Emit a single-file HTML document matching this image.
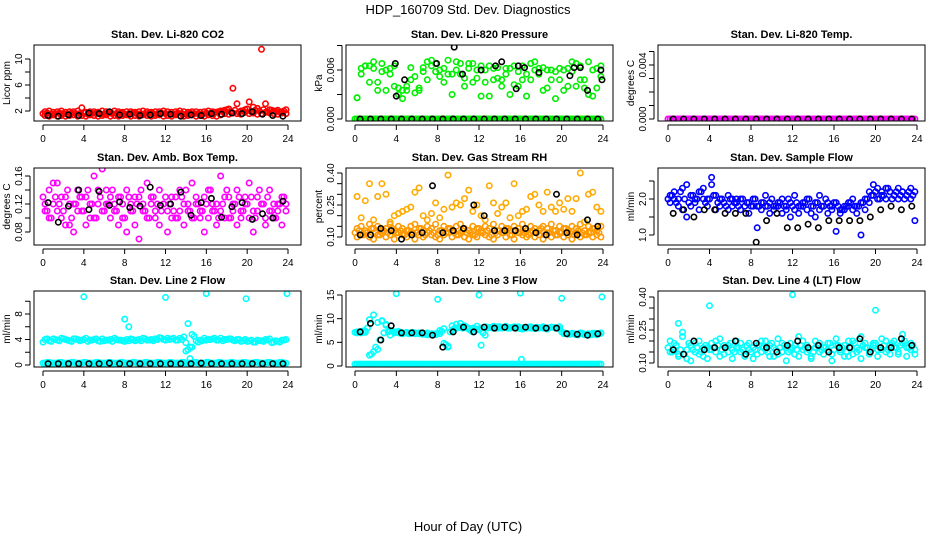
<!DOCTYPE html>
<html><head><meta charset="utf-8">
<style>
html,body{margin:0;padding:0;background:#fff;}
svg{display:block;font-family:"Liberation Sans",sans-serif;}
</style></head>
<body>
<svg id="chart" width="936" height="540" viewBox="0 0 936 540" xmlns="http://www.w3.org/2000/svg">
<text x="468" y="14" text-anchor="middle" font-size="13">HDP_160709  Std. Dev. Diagnostics</text>
<text x="468" y="531" text-anchor="middle" font-size="13">Hour of Day (UTC)</text>
<g id="panels"></g>
</svg>
<script>
// ---- data ----
const X60 = [0.2,0.6,1.0,1.4,1.8,2.2,2.6,3.0,3.4,3.8,4.2,4.6,5.0,5.4,5.8,6.2,6.6,7.0,7.4,7.8,8.2,8.6,9.0,9.4,9.8,10.2,10.6,11.0,11.4,11.8,12.2,12.6,13.0,13.4,13.8,14.2,14.6,15.0,15.4,15.8,16.2,16.6,17.0,17.4,17.8,18.2,18.6,19.0,19.4,19.8,20.2,20.6,21.0,21.4,21.8,22.2,22.6,23.0,23.4,23.8];
const X60b = [0.0,0.4,0.8,1.2,1.6,2.0,2.4,2.8,3.2,3.6,4.0,4.4,4.8,5.2,5.6,6.0,6.4,6.8,7.2,7.6,8.0,8.4,8.8,9.2,9.6,10.0,10.4,10.8,11.2,11.6,12.0,12.4,12.8,13.2,13.6,14.0,14.4,14.8,15.2,15.6,16.0,16.4,16.8,17.2,17.6,18.0,18.4,18.8,19.2,19.6,20.0,20.4,20.8,21.2,21.6,22.0,22.4,22.8,23.2,23.6];
const XB = [0.5,1.5,2.5,3.5,4.5,5.5,6.5,7.5,8.5,9.5,10.5,11.5,12.5,13.5,14.5,15.5,16.5,17.5,18.5,19.5,20.5,21.5,22.5,23.5];
const hourTicks = [0,4,8,12,16,20,24];

const co2A = [1.9,2.0,1.8,1.9,2.0,1.8,1.9,1.9,2.0,2.5,1.8,1.9,1.9,1.8,2.0,1.9,1.8,2.0,1.9,1.8,1.9,1.9,1.8,1.9,2.0,1.9,1.8,1.9,1.9,2.0,1.9,1.8,1.9,2.0,1.9,1.8,1.9,1.9,1.8,1.9,2.0,1.9,1.8,2.0,2.1,2.3,5.5,3.1,2.0,2.2,3.4,2.6,2.4,11.5,3.1,2.2,2.0,2.1,1.9,2.2];
const co2B = [1.3,1.2,1.4,1.2,1.3,1.2,1.3,1.4,1.2,1.3,1.2,1.4,1.3,1.2,1.3,1.4,1.2,1.3,1.2,1.3,1.4,1.2,1.3,1.2,1.4,1.3,1.2,1.3,1.4,1.2,1.3,1.2,1.4,1.3,1.2,1.3,1.4,1.2,1.3,1.2,1.4,1.3,1.2,1.4,1.6,1.5,1.7,1.6,1.5,1.8,1.6,1.7,1.5,1.6,1.8,1.7,1.6,1.5,1.7,1.6];
const co2C = [1.6,1.7,1.5,1.6,1.7,1.6,1.5,1.7,1.6,1.6,1.7,1.5,1.6,1.7,1.6,1.5,1.7,1.6,1.6,1.7,1.5,1.6,1.7,1.6,1.5,1.6,1.7,1.6,1.5,1.7,1.6,1.6,1.5,1.7,1.6,1.5,1.7,1.6,1.6,1.5,1.7,1.6,1.8,1.9,2.0,2.2,1.9,2.1,1.8,2.0,2.3,1.9,2.1,2.0,2.2,1.9,2.1,2.0,1.8,2.0];
const co2K = [1.3,1.2,1.4,1.3,1.7,1.6,1.9,1.4,1.5,1.3,1.4,1.6,1.5,1.2,1.4,1.3,1.6,1.5,1.7,1.6,1.9,1.5,1.3,1.2];

const prZero = [0,0,0,0,0,0,0,0,0,0,0,0,0,0,0,0,0,0,0,0,0,0,0,0,0,0,0,0,0,0,0,0,0,0,0,0,0,0,0,0,0,0,0,0,0,0,0,0,0,0,0,0,0,0,0,0,0,0,0,0];
const prA = [0.0026,0.0055,0.0065,0.0065,0.0062,0.0045,0.0068,0.0060,0.0062,0.0040,0.0038,0.0025,0.0035,0.0063,0.0052,0.0038,0.0063,0.0070,0.0072,0.0068,0.0060,0.0045,0.0072,0.0055,0.0060,0.0068,0.0050,0.0068,0.0045,0.0060,0.0028,0.0060,0.0065,0.0048,0.0063,0.0048,0.0062,0.0030,0.0065,0.0040,0.0065,0.0028,0.0048,0.0070,0.0055,0.0063,0.0038,0.0060,0.0025,0.0048,0.0060,0.0040,0.0070,0.0068,0.0048,0.0038,0.0070,0.0028,0.0062,0.0065];
const prB = [0.0026,0.0062,0.0065,0.0045,0.0070,0.0035,0.0058,0.0035,0.0055,0.0065,0.0030,0.0035,0.0040,0.0048,0.0032,0.0035,0.0058,0.0048,0.0065,0.0058,0.0052,0.0062,0.0055,0.0030,0.0070,0.0055,0.0040,0.0062,0.0068,0.0050,0.0065,0.0045,0.0028,0.0062,0.0050,0.0040,0.0055,0.0062,0.0042,0.0058,0.0048,0.0055,0.0068,0.0060,0.0062,0.0035,0.0060,0.0048,0.0058,0.0062,0.0035,0.0062,0.0058,0.0040,0.0065,0.0048,0.0030,0.0060,0.0038,0.0052];
const blkZero = [0,0,0,0,0,0,0,0,0,0,0,0,0,0,0,0,0,0,0,0,0,0,0,0];
const prKx = [3.9,4.0,4.8,7.9,9.6,10.4,12.2,13.6,14.2,15.6,15.8,16.4,17.8,20.8,21.2,21.8,22.5,23.8,23.9];
const prKy = [0.0068,0.0028,0.0048,0.0068,0.0088,0.0055,0.0060,0.0065,0.0070,0.0037,0.0065,0.0063,0.0057,0.0053,0.0063,0.0063,0.0035,0.0060,0.0048];

const tmpOutX = [18.4];
const tmpOutY = [0.0061];

const abA = [0.11,0.14,0.12,0.15,0.10,0.13,0.09,0.12,0.14,0.11,0.13,0.10,0.16,0.12,0.11,0.14,0.10,0.12,0.13,0.10,0.14,0.12,0.09,0.13,0.11,0.15,0.12,0.10,0.14,0.12,0.11,0.13,0.10,0.14,0.12,0.11,0.15,0.12,0.10,0.13,0.14,0.11,0.12,0.16,0.10,0.13,0.11,0.14,0.10,0.12,0.15,0.11,0.13,0.12,0.10,0.14,0.12,0.11,0.13,0.12];
const abB = [0.12,0.10,0.15,0.11,0.13,0.09,0.12,0.08,0.11,0.13,0.09,0.12,0.10,0.14,0.17,0.12,0.13,0.11,0.09,0.12,0.08,0.11,0.13,0.07,0.12,0.10,0.13,0.11,0.09,0.12,0.08,0.10,0.13,0.11,0.09,0.12,0.10,0.13,0.11,0.08,0.10,0.12,0.09,0.11,0.13,0.10,0.12,0.09,0.11,0.13,0.10,0.08,0.11,0.12,0.09,0.11,0.10,0.12,0.09,0.11];
const abC = [0.13,0.11,0.10,0.13,0.12,0.11,0.14,0.10,0.12,0.13,0.11,0.14,0.12,0.10,0.13,0.11,0.12,0.14,0.11,0.13,0.10,0.13,0.11,0.12,0.14,0.11,0.10,0.13,0.12,0.11,0.13,0.12,0.11,0.10,0.13,0.14,0.11,0.10,0.12,0.11,0.12,0.14,0.11,0.10,0.12,0.14,0.10,0.12,0.13,0.11,0.12,0.13,0.10,0.14,0.12,0.13,0.11,0.10,0.12,0.13];
const abK = [0.122,0.094,0.117,0.140,0.112,0.138,0.118,0.123,0.115,0.117,0.144,0.118,0.120,0.137,0.104,0.122,0.128,0.101,0.116,0.122,0.098,0.106,0.100,0.124];

const rhA = [0.14,0.15,0.13,0.16,0.14,0.15,0.13,0.14,0.16,0.13,0.15,0.14,0.13,0.15,0.16,0.14,0.13,0.15,0.14,0.16,0.13,0.15,0.14,0.13,0.15,0.16,0.14,0.13,0.15,0.14,0.13,0.15,0.14,0.16,0.13,0.15,0.14,0.13,0.15,0.14,0.16,0.13,0.15,0.14,0.13,0.15,0.14,0.16,0.13,0.15,0.14,0.13,0.15,0.14,0.16,0.13,0.15,0.14,0.13,0.15];
const rhB = [0.10,0.11,0.12,0.10,0.09,0.11,0.12,0.10,0.11,0.09,0.12,0.11,0.10,0.12,0.09,0.11,0.10,0.12,0.11,0.10,0.09,0.11,0.12,0.10,0.11,0.12,0.10,0.09,0.11,0.10,0.12,0.11,0.10,0.09,0.11,0.12,0.10,0.11,0.09,0.12,0.11,0.10,0.12,0.10,0.11,0.09,0.12,0.10,0.11,0.12,0.10,0.11,0.09,0.12,0.10,0.11,0.12,0.10,0.11,0.10];
const rhD = [0.12,0.13,0.11,0.12,0.14,0.12,0.11,0.13,0.12,0.14,0.12,0.13,0.11,0.13,0.12,0.12,0.14,0.11,0.13,0.12,0.11,0.13,0.12,0.14,0.12,0.11,0.13,0.12,0.12,0.11,0.14,0.12,0.13,0.11,0.12,0.13,0.12,0.14,0.11,0.13,0.12,0.12,0.11,0.13,0.12,0.14,0.11,0.12,0.13,0.11,0.12,0.14,0.12,0.11,0.13,0.12,0.11,0.12,0.14,0.12];
const rhC = [0.29,0.19,0.27,0.35,0.18,0.29,0.35,0.30,0.17,0.20,0.21,0.22,0.23,0.24,0.31,0.33,0.20,0.18,0.21,0.26,0.19,0.23,0.39,0.24,0.26,0.25,0.28,0.32,0.22,0.25,0.20,0.18,0.34,0.26,0.21,0.24,0.26,0.19,0.35,0.20,0.22,0.23,0.29,0.30,0.25,0.22,0.31,0.24,0.22,0.26,0.23,0.28,0.22,0.28,0.40,0.17,0.30,0.31,0.24,0.22];
const rhK = [0.11,0.11,0.14,0.13,0.09,0.11,0.12,0.34,0.12,0.13,0.14,0.25,0.20,0.13,0.13,0.13,0.14,0.12,0.11,0.30,0.12,0.11,0.18,0.15];

const sfA = [2.1,2.2,2.0,2.3,2.4,2.1,2.0,2.2,2.3,2.0,2.4,2.1,2.0,1.9,2.1,2.0,1.9,2.0,1.8,1.9,2.0,1.8,1.9,2.1,1.9,1.8,1.9,2.0,1.8,1.9,2.1,1.8,1.9,2.0,1.8,1.9,2.1,1.8,1.9,1.8,1.9,1.7,1.8,1.9,2.0,1.8,1.9,2.0,2.2,2.4,2.3,2.2,2.3,2.2,2.1,2.3,2.2,2.1,2.3,2.2];
const sfB = [1.9,2.0,1.8,1.7,1.5,1.8,1.9,1.7,2.0,1.8,2.6,1.7,1.8,1.9,1.7,1.8,2.0,1.7,1.8,1.6,1.8,1.2,1.7,1.8,1.6,1.7,1.8,1.6,1.7,1.5,1.7,1.6,1.8,1.7,1.6,1.5,1.7,1.8,1.6,1.7,1.1,1.6,1.7,1.8,1.7,1.6,1.0,1.7,1.9,2.1,2.0,2.1,2.0,2.2,2.1,2.0,2.2,2.1,2.0,1.4];
const sfC = [2.0,2.1,1.9,2.2,2.0,1.9,2.1,2.0,2.2,1.9,2.0,2.1,1.9,2.0,1.8,2.0,1.9,1.8,2.0,1.9,1.8,2.0,1.8,1.9,1.8,2.0,1.8,1.9,1.8,2.0,1.8,1.9,1.8,1.9,2.0,1.8,1.9,1.8,2.0,1.8,1.9,1.8,1.7,1.8,1.9,1.8,1.8,1.9,2.0,2.1,2.2,2.0,2.1,2.3,2.0,2.2,2.1,2.0,2.2,2.1];
const sfK = [1.6,1.7,1.5,1.7,1.7,1.6,1.6,1.6,0.8,1.4,1.6,1.2,1.2,1.3,1.2,1.4,1.4,1.4,1.4,1.5,1.7,1.8,1.7,1.8];

const l2A = [4.0,3.8,4.1,3.9,4.2,4.0,3.8,4.1,4.0,3.9,4.2,3.9,4.0,3.8,4.1,3.9,4.0,4.2,3.9,3.8,4.0,4.1,3.8,4.0,4.2,3.9,4.0,4.1,4.3,4.0,4.2,4.1,3.9,4.2,4.4,2.4,4.8,3.8,3.9,4.2,4.0,4.1,3.9,4.2,4.0,4.1,3.9,4.0,3.7,4.0,3.8,3.6,3.9,3.8,4.0,4.1,3.6,3.7,3.9,4.0];
const l2C = [3.6,4.1,3.7,4.0,3.8,4.1,3.9,3.7,4.1,3.8,4.0,3.7,3.9,4.1,3.7,3.8,3.9,3.7,4.0,3.9,3.7,3.8,4.0,3.9,3.8,4.1,3.9,3.8,4.0,4.2,3.9,4.0,4.2,3.9,4.0,3.5,2.8,4.5,3.6,3.8,3.9,4.0,4.2,3.9,3.8,4.0,4.1,3.8,4.0,3.8,3.7,3.9,3.6,3.8,3.7,3.9,3.5,3.8,3.6,3.9];
const l2B = [0.3,0.4,0.3,0.3,0.4,0.3,0.3,0.4,0.3,0.3,0.4,0.3,0.3,0.4,0.3,0.3,0.4,0.3,0.3,0.4,0.3,0.3,0.4,0.3,0.3,0.4,0.3,0.3,0.4,0.3,0.3,0.4,0.3,0.3,0.4,0.3,0.3,0.4,0.3,0.3,0.4,0.3,0.3,0.4,0.3,0.3,0.4,0.3,0.3,0.4,0.3,0.3,0.4,0.3,0.3,0.4,0.3,0.3,0.4,0.3];
const l2Ox = [4.0,8.0,8.4,12.0,14.2,14.0,14.4,14.6,16.0,19.9,23.9];
const l2Oy = [10.7,7.2,6.0,10.6,6.5,2.2,1.0,2.8,11.2,10.4,11.2];
const l2K = [0.2,0.2,0.2,0.2,0.2,0.2,0.3,0.2,0.2,0.2,0.2,0.2,0.2,0.2,0.2,0.3,0.2,0.2,0.2,0.2,0.2,0.2,0.2,0.2];

const l3A = [7.0,7.3,7.1,2.3,3.0,3.5,9.5,8.8,6.5,7.2,7.0,6.8,7.0,6.9,7.0,6.8,6.7,6.6,6.8,6.6,6.8,4.8,4.2,7.5,8.0,8.3,8.2,8.0,7.2,7.8,8.0,6.5,8.2,8.0,8.3,8.0,8.2,8.1,8.3,8.0,7.8,8.2,8.0,7.9,8.1,8.0,7.8,8.2,8.0,7.9,6.8,6.7,6.8,6.6,6.8,6.7,6.5,6.7,6.8,6.9];
const l3B = [7.2,7.0,7.4,9.8,10.8,9.2,9.6,8.6,7.5,7.0,7.3,7.0,7.1,7.0,6.8,7.0,6.9,7.0,6.6,6.8,7.5,7.9,4.0,8.5,8.8,9.0,8.5,7.8,8.0,8.4,8.0,8.3,8.1,8.4,8.0,8.2,8.4,8.0,8.2,8.3,8.1,8.0,8.3,8.1,8.0,8.3,8.0,8.2,8.1,8.3,7.0,6.8,6.9,6.7,7.0,6.6,6.8,6.9,6.6,7.0];
const l3C = [7.1,7.2,7.4,8.0,2.5,4.0,5.5,7.0,7.2,7.4,7.1,6.9,7.0,6.8,7.1,6.9,6.8,6.7,6.6,6.7,6.9,7.3,4.5,7.2,7.9,8.1,8.0,8.2,7.5,7.9,7.6,7.0,8.0,8.1,8.0,8.3,8.1,8.0,8.2,8.1,7.9,8.1,8.2,8.0,8.2,8.1,8.0,8.1,8.2,8.0,7.2,6.9,6.7,6.8,6.6,6.9,6.7,6.6,6.9,6.8];
const l3Z = [0.4,0.4,0.4,0.4,0.4,0.4,0.4,0.4,0.4,0.4,0.4,0.4,0.4,0.4,0.4,0.4,0.4,0.4,0.4,0.4,0.4,0.4,0.4,0.4,0.4,0.4,0.4,0.4,0.4,0.4,0.4,0.4,0.4,0.4,0.4,0.4,0.4,0.4,0.4,0.4,0.4,0.4,0.4,0.4,0.4,0.4,0.4,0.4,0.4,0.4,0.4,0.4,0.4,0.4,0.4,0.4,0.4,0.4,0.4,0.4];
const l3Ox = [4.0,8.0,12.0,12.2,16.0,16.1,20.0,23.9];
const l3Oy = [15.3,14.1,15.0,4.4,15.4,1.4,14.3,14.6];
const l3K = [7.2,9.0,5.5,8.5,7.0,7.0,7.0,6.5,4.0,7.2,8.2,7.2,8.2,8.0,8.2,8.0,8.2,8.0,8.0,8.0,6.8,6.7,6.5,6.8];

const l4A = [0.20,0.16,0.14,0.22,0.12,0.18,0.15,0.20,0.13,0.17,0.19,0.15,0.21,0.14,0.18,0.16,0.20,0.15,0.13,0.19,0.17,0.14,0.20,0.16,0.18,0.13,0.21,0.15,0.17,0.19,0.14,0.22,0.16,0.18,0.13,0.20,0.15,0.17,0.19,0.14,0.21,0.16,0.18,0.13,0.20,0.15,0.22,0.17,0.14,0.19,0.16,0.21,0.15,0.18,0.20,0.14,0.23,0.17,0.19,0.16];
const l4B = [0.15,0.19,0.13,0.24,0.16,0.11,0.19,0.14,0.17,0.12,0.16,0.20,0.13,0.18,0.15,0.12,0.17,0.19,0.14,0.16,0.12,0.18,0.15,0.20,0.13,0.17,0.14,0.19,0.11,0.16,0.18,0.13,0.20,0.15,0.12,0.17,0.19,0.14,0.16,0.11,0.18,0.15,0.13,0.20,0.14,0.17,0.12,0.19,0.15,0.18,0.13,0.16,0.20,0.14,0.17,0.15,0.19,0.13,0.16,0.14];
const l4C = [0.17,0.15,0.18,0.16,0.14,0.19,0.16,0.17,0.15,0.18,0.16,0.17,0.18,0.16,0.17,0.19,0.15,0.17,0.16,0.18,0.15,0.16,0.18,0.17,0.15,0.19,0.16,0.17,0.18,0.15,0.17,0.16,0.18,0.17,0.16,0.15,0.18,0.16,0.17,0.19,0.16,0.18,0.17,0.15,0.17,0.19,0.16,0.18,0.17,0.16,0.19,0.17,0.18,0.16,0.19,0.17,0.18,0.20,0.17,0.18];
const l4Ox = [1.0,4.0,12.0,20.0];
const l4Oy = [0.28,0.36,0.41,0.34];
const l4K = [0.16,0.14,0.20,0.16,0.17,0.17,0.20,0.14,0.19,0.17,0.15,0.18,0.20,0.17,0.18,0.15,0.17,0.17,0.21,0.15,0.17,0.17,0.21,0.18];

// ---- layout ----
const colLeft=[34,346,658], colRight=[301,613,925], colX0=[43,355,668], colX24=[288,603,917];
const rowTop=[45,168,291], rowBot=[121,245,367];
const NS="http://www.w3.org/2000/svg";
const root=document.getElementById('panels');

function mk(tag, attrs, parent){
  const e=document.createElementNS(NS,tag);
  for(const k in attrs) e.setAttribute(k,attrs[k]);
  (parent||root).appendChild(e);
  return e;
}

const panels=[
 {r:0,c:0,title:"Stan. Dev. Li-820 CO2",ylab:"Licor ppm",y0:2,p0:111,y1:10,p1:59,ticks:[2,4,6,8,10],labels:[2,6,10],fmt:v=>String(v),
  series:[[X60,co2A,'#ff0000'],[X60,co2B,'#ff0000'],[X60b,co2C,'#ff0000'],[XB,co2K,'#000']]},
 {r:0,c:1,title:"Stan. Dev. Li-820 Pressure",ylab:"kPa",y0:0,p0:119,y1:0.006,p1:70,ticks:[0,0.003,0.006,0.009],labels:[0,0.006],fmt:v=>v.toFixed(3),
  series:[[X60,prZero,'#00ee00'],[X60b,prZero,'#00ee00'],[X60,prA,'#00ee00'],[X60,prB,'#00ee00'],[XB,blkZero,'#000'],[prKx,prKy,'#000']]},
 {r:0,c:2,title:"Stan. Dev. Li-820 Temp.",ylab:"degrees C",y0:0,p0:119,y1:0.004,p1:65,ticks:[0,0.001,0.002,0.003,0.004,0.005],labels:[0,0.004],fmt:v=>v.toFixed(3),
  series:[[X60,prZero,'#ff00ff'],[X60b,prZero,'#ff00ff'],[XB,blkZero,'#000'],[tmpOutX,tmpOutY,'#ff00ff']]},
 {r:1,c:0,title:"Stan. Dev. Amb. Box Temp.",ylab:"degrees C",y0:0.08,p0:232,y1:0.16,p1:176,ticks:[0.08,0.10,0.12,0.14,0.16],labels:[0.08,0.12,0.16],fmt:v=>v.toFixed(2),
  series:[[X60,abA,'#ff00ff'],[X60,abB,'#ff00ff'],[X60b,abC,'#ff00ff'],[XB,abK,'#000']]},
 {r:1,c:1,title:"Stan. Dev. Gas Stream RH",ylab:"percent",y0:0.10,p0:237,y1:0.40,p1:173,ticks:[0.10,0.15,0.20,0.25,0.30,0.35,0.40],labels:[0.10,0.25,0.40],fmt:v=>v.toFixed(2),
  series:[[X60,rhA,'#ff9900'],[X60,rhB,'#ff9900'],[X60b,rhD,'#ff9900'],[X60,rhC,'#ffaa00'],[XB,rhK,'#000']]},
 {r:1,c:2,title:"Stan. Dev. Sample Flow",ylab:"ml/min",y0:1.0,p0:235,y1:2.0,p1:199,ticks:[1.0,1.5,2.0,2.5],labels:[1.0,2.0],fmt:v=>v.toFixed(1),
  series:[[X60,sfA,'#0000ff'],[X60,sfB,'#0000ff'],[X60b,sfC,'#0000ff'],[XB,sfK,'#000']]},
 {r:2,c:0,title:"Stan. Dev. Line 2 Flow",ylab:"ml/min",y0:0,p0:365,y1:8,p1:314,ticks:[0,2,4,6,8,10],labels:[0,4,8],fmt:v=>String(v),
  series:[[X60,l2A,'#00ffff'],[X60b,l2C,'#00ffff'],[X60,l2B,'#00ffff'],[X60b,l2B,'#00ffff'],[l2Ox,l2Oy,'#00ffff'],[XB,l2K,'#000']]},
 {r:2,c:1,title:"Stan. Dev. Line 3 Flow",ylab:"ml/min",y0:0,p0:366,y1:15,p1:295,ticks:[0,5,10,15],labels:[0,5,10,15],fmt:v=>String(v),
  series:[[X60,l3Z,'#00ffff'],[X60b,l3Z,'#00ffff'],[X60,l3A,'#00ffff'],[X60,l3B,'#00ffff'],[X60b,l3C,'#00ffff'],[l3Ox,l3Oy,'#00ffff'],[XB,l3K,'#000']]},
 {r:2,c:2,title:"Stan. Dev. Line 4 (LT) Flow",ylab:"ml/min",y0:0.10,p0:363,y1:0.40,p1:297,ticks:[0.10,0.15,0.20,0.25,0.30,0.35,0.40],labels:[0.10,0.25,0.40],fmt:v=>v.toFixed(2),
  series:[[X60,l4A,'#00ffff'],[X60,l4B,'#00ffff'],[X60b,l4C,'#00ffff'],[l4Ox,l4Oy,'#00ffff'],[XB,l4K,'#000']]}
];

panels.forEach((p,pi)=>{
  const L=colLeft[p.c],R=colRight[p.c],T=rowTop[p.r],B=rowBot[p.r];
  const xs=h=>colX0[p.c]+(h/24)*(colX24[p.c]-colX0[p.c]);
  const ys=v=>p.p0+(v-p.y0)*(p.p1-p.p0)/(p.y1-p.y0);
  const g=mk('g',{});
  
  
  const t=mk('text',{x:(L+R)/2,y:T-7,'text-anchor':'middle','font-size':'11','font-weight':'bold'},g);
  t.textContent=p.title;
  
  
  const yl=mk('text',{x:0,y:0,transform:`translate(${L-24},${(T+B)/2}) rotate(-90)`,'text-anchor':'middle','font-size':'10'},g);
  yl.textContent=p.ylab;
  
  
  const cp=mk('clipPath',{id:'cp'+pi},g);
  mk('rect',{x:L,y:T,width:R-L,height:B-T},cp);
  const pts=mk('g',{'clip-path':`url(#cp${pi})`},g);
  
  
  p.series.forEach(s=>{
    const [xa,ya,col]=s;
    ya.forEach((v,i)=>{
      const c=mk('circle',{cx:xs(xa[i]).toFixed(1),cy:ys(v).toFixed(1),r:2.7,fill:'none',stroke:col,'stroke-width':1.6},pts);
      
      
    });
  });
  const box=mk('rect',{x:L,y:T,width:R-L,height:B-T,fill:'none',stroke:'#000','stroke-width':1},g);
  
  
  const xa=mk('g',{},g);
  
  
  mk('line',{x1:xs(0),x2:xs(24),y1:B+4,y2:B+4,stroke:'#000'},xa);
  hourTicks.forEach(h=>{
    mk('line',{x1:xs(h),x2:xs(h),y1:B+4,y2:B+9,stroke:'#000'},xa);
    const tl=mk('text',{x:xs(h),y:B+21,'text-anchor':'middle','font-size':'10'},xa);
    tl.textContent=h;
    
    
  });
  const ya=mk('g',{},g);
  
  
  const tk=p.ticks.filter(v=>ys(v)>=T-1&&ys(v)<=B+1);
  mk('line',{x1:L-4,x2:L-4,y1:ys(tk[0]),y2:ys(tk[tk.length-1]),stroke:'#000'},ya);
  tk.forEach(v=>{
    mk('line',{x1:L-9,x2:L-4,y1:ys(v),y2:ys(v),stroke:'#000'},ya);
  });
  p.labels.forEach(v=>{
    const tl=mk('text',{x:0,y:0,transform:`translate(${L-12},${ys(v)}) rotate(-90)`,'text-anchor':'middle','font-size':'10'},ya);
    tl.textContent=p.fmt(v);
    
    
  });
});
</script>
</body></html>
